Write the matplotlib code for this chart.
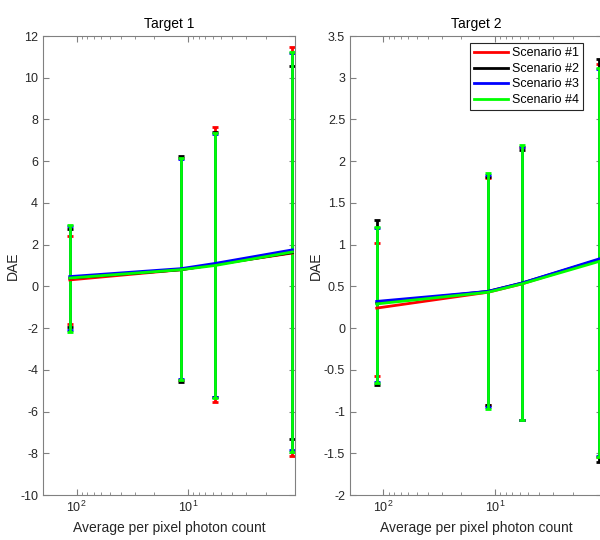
import numpy as np
import matplotlib
matplotlib.use("Agg")
from matplotlib import pyplot as plt
from matplotlib.lines import Line2D
from matplotlib.ticker import LogLocator, NullFormatter, FormatStrFormatter

plt.rcParams['font.family'] = ['Liberation Sans', 'DejaVu Sans']
plt.rcParams['axes.unicode_minus'] = False

photons = [115, 11.5, 5.7, 1.15]
names = ["Scenario #1", "Scenario #2", "Scenario #3", "Scenario #4"]
colors = ["#ff0000", "#000000", "#0000ff", "#00ff00"]

# target 1: mean, lower, upper for each scenario
t1_mean = [[0.31, 0.8, 1.05, 1.6],
           [0.4, 0.8, 1.05, 1.62],
           [0.47, 0.85, 1.1, 1.75],
           [0.4, 0.8, 1.0, 1.65]]
t1_low = [[-1.8, -4.5, -5.54, -8.15],
          [-1.95, -4.58, -5.3, -7.3],
          [-2.1, -4.45, -5.3, -7.85],
          [-2.17, -4.49, -5.33, -7.92]]
t1_high = [[2.4, 6.15, 7.64, 11.49],
           [2.76, 6.27, 7.4, 10.58],
           [2.9, 6.1, 7.3, 11.2],
           [2.94, 6.15, 7.35, 11.25]]

# target 2
t2_mean = [[0.24, 0.43, 0.53, 0.82],
           [0.3, 0.44, 0.54, 0.82],
           [0.32, 0.44, 0.54, 0.83],
           [0.29, 0.43, 0.53, 0.8]]
t2_low = [[-0.57, -0.925, -1.1, -1.55],
          [-0.68, -0.925, -1.1, -1.6],
          [-0.64, -0.95, -1.1, -1.53],
          [-0.66, -0.97, -1.1, -1.55]]
t2_high = [[1.02, 1.8, 2.17, 3.17],
           [1.29, 1.81, 2.14, 3.22],
           [1.2, 1.84, 2.17, 3.1],
           [1.21, 1.86, 2.19, 3.12]]

fig = plt.figure(figsize=(6, 5.4), dpi=100)
ax1 = fig.add_axes([0.0717, 0.0833, 0.42, 0.85])
ax2 = fig.add_axes([0.5833, 0.0833, 0.42, 0.85])

panels = [(ax1, "Target 1", t1_mean, t1_low, t1_high, (-10, 12), 2),
          (ax2, "Target 2", t2_mean, t2_low, t2_high, (-2, 3.5), 0.5)]

for ax, title, mean, low, high, ylim, step in panels:
    for i in range(4):
        m = np.array(mean[i])
        err = [m - np.array(low[i]), np.array(high[i]) - m]
        ax.errorbar(photons, m, yerr=err, color=colors[i], lw=2, elinewidth=2,
                    capsize=2, capthick=2)
    ax.set_xscale("log")
    ax.set_xlim(200, 1.09)
    ax.set_ylim(*ylim)
    ax.set_yticks(np.arange(ylim[0], ylim[1] + step / 2, step))
    ax.yaxis.set_major_formatter(FormatStrFormatter("%g"))
    ax.xaxis.set_major_locator(LogLocator(base=10))
    ax.xaxis.set_minor_locator(LogLocator(base=10, subs=np.arange(2, 10)))
    ax.xaxis.set_minor_formatter(NullFormatter())
    ax.tick_params(which="both", direction="in", top=True, right=True,
                   color="#808080", labelcolor="#262626", labelsize=9)
    ax.tick_params(which="major", length=4)
    ax.tick_params(which="minor", length=2)
    for s in ax.spines.values():
        s.set_color("#808080")
        s.set_linewidth(0.8)
    ax.set_title(title, fontsize=10, pad=6)
    ax.set_xlabel("Average per pixel photon count", fontsize=10, color="#262626")
    ax.set_ylabel("DAE", fontsize=10, color="#262626", labelpad=0.5)

handles = [Line2D([], [], color=c, lw=2) for c in colors]
leg = ax2.legend(handles, names, loc="upper right", bbox_to_anchor=(0.935, 0.99),
                 fontsize=9, fancybox=False, framealpha=1, edgecolor="#262626",
                 handlelength=2.7, borderpad=0.35, labelspacing=0.28,
                 handletextpad=0.3, borderaxespad=0.2)
leg.get_frame().set_linewidth(0.8)

plt.savefig("out.png")
